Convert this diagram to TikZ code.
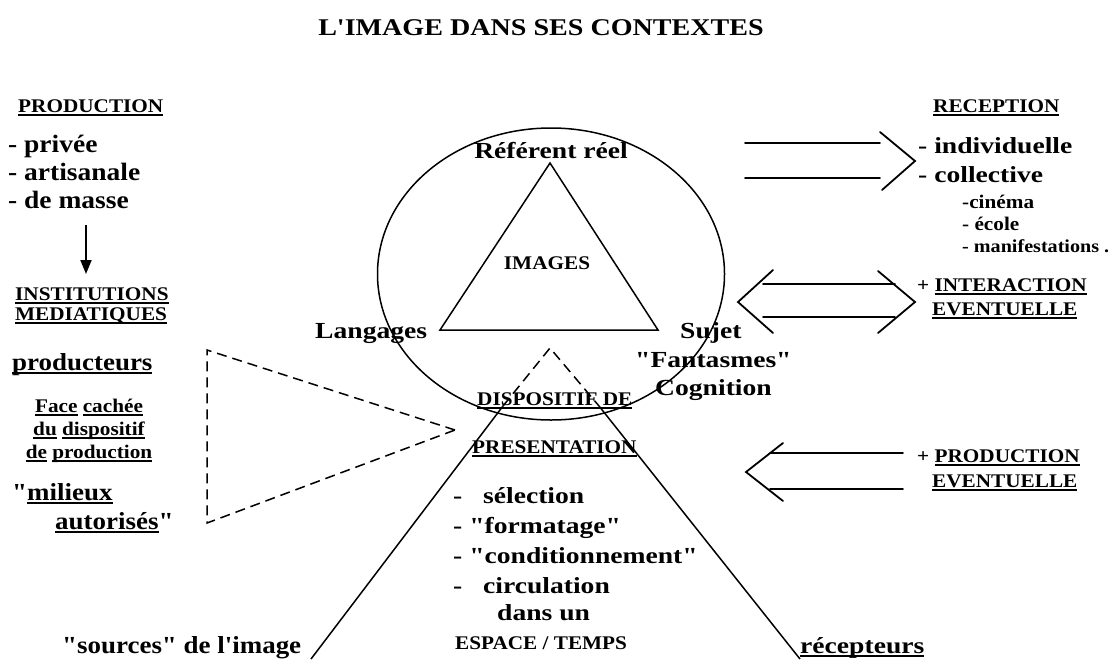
\documentclass[tikz,border=0pt]{standalone}
\usepackage{fontspec}
\setmainfont{Liberation Serif}[FakeStretch=1.1, Ligatures=TeXOff]
\newfontfamily\fsC{Liberation Serif}[FakeStretch=1.2, Ligatures=TeXOff]
\newfontfamily\fsT{Liberation Serif}[FakeStretch=1.17, Ligatures=TeXOff]
\usetikzlibrary{arrows.meta,shapes.geometric}
\newcommand\myul[1]{\leavevmode\setbox0\hbox{#1}\rlap{\vrule height -1.6pt depth 3.6pt width \wd0}\box0\relax}
\newcommand\dq{\symbol{34}}
\newcommand\sq{\symbol{39}}
\begin{document}
\begin{tikzpicture}[x=1pt,y=-1pt,
  tbig/.style={inner sep=0pt, anchor=base west, font=\bfseries\fontsize{24.5}{28}\selectfont},
  tleft/.style={inner sep=0pt, anchor=base west, font=\bfseries\fontsize{25}{30}\selectfont},
  tmid/.style={inner sep=0pt, anchor=base west, font=\fsC\bfseries\fontsize{23}{26}\selectfont},
  tcap/.style={inner sep=0pt, anchor=base west, font=\bfseries\fontsize{19.3}{22}\selectfont},
  tctr/.style={anchor=base},
  ln/.style={line width=1.8pt, line cap=round},
  thinln/.style={line width=1.5pt},
  dsh/.style={line width=1.5pt, dash pattern=on 10pt off 6pt}]
\useasboundingbox (0,0) rectangle (1115,659);
\fill[white] (0,0) rectangle (1115,659);

% title
\node[inner sep=0pt, anchor=base, font=\fsT\bfseries\fontsize{24}{28}\selectfont] (title) at (541,35) {L\sq IMAGE DANS SES CONTEXTES};

% left column
\node[tcap] (prod) at (18,112) {\myul{PRODUCTION}};
\node[tleft] (priv) at (8,152) {- privée};
\node[tleft] (arti) at (8,180) {- artisanale};
\node[tleft] (mass) at (8,208) {- de masse};
\coordinate (arA) at (86,225);
\coordinate (arB) at (86,274);
\draw[line width=2pt, -{Triangle[width=11pt,length=14pt]}] (arA) -- (arB);
\node[tcap] (inst) at (15,300) {\myul{INSTITUTIONS}};
\node[tcap] (medi) at (15,320) {\myul{MEDIATIQUES}};
\node[tbig] (produc) at (12,370) {\myul{producteurs}};
\node[tcap, tctr] (face) at (89,412) {\myul{Face} \myul{cachée}};
\node[tcap, tctr] (dudi) at (89,435) {\myul{du} \myul{dispositif}};
\node[tcap, tctr] (depr) at (89,458) {\myul{de} \myul{production}};
\node[tbig] (mil) at (12,500) {\dq\myul{milieux}};
\node[tbig] (aut) at (55,529) {\myul{autorisés}\dq};
\node[tbig] (src) at (62,653) {\dq sources\dq{} de l\sq image};

% dashed left triangle
\coordinate (dA) at (207,350);
\coordinate (dB) at (207,523);
\coordinate (dC) at (455,430);
\draw[dsh, line join=miter] (dC) -- (dA) -- (dB) -- cycle;

% ellipse and inner triangle
\node[draw, ellipse, thinln, inner sep=0pt, minimum width=347pt, minimum height=292pt] (circ) at (551,274) {};
\coordinate (tA) at (550,163);
\coordinate (tB) at (440,330);
\coordinate (tC) at (658,330);
\draw[thinln, line join=miter] (tA) -- (tB) -- (tC) -- cycle;
\node[tmid, tctr] (refr) at (551,158) {Référent réel};
\node[tcap, tctr] (imgs) at (547,269) {IMAGES};
\node[tmid] (lang) at (315,338) {Langages};
\node[tmid] (suj) at (680,338) {Sujet};
\node[tmid] (fant) at (635,367) {\dq Fantasmes\dq};
\node[tmid] (cogn) at (655,395) {Cognition};

% big presentation triangle
\coordinate (pA) at (550,348);
\coordinate (pL) at (503,406);
\coordinate (pR) at (599,406);
\coordinate (pLb) at (311,659);
\coordinate (pRb) at (800,659);
\draw[dsh] (pL) -- (pA) -- (pR);
\draw[thinln] (pL) -- (pLb);
\draw[thinln] (pR) -- (pRb);
\node[tcap] (disp) at (477,405) {\myul{DISPOSITIF DE}};
\node[tcap] (pres) at (472,453) {\myul{PRESENTATION}};
\node[tmid] (sel) at (453,503) {-\hspace{0.9em}sélection};
\node[tmid] (form) at (453,533) {- \dq formatage\dq};
\node[tmid] (cond) at (453,563) {- \dq conditionnement\dq};
\node[tmid] (circl) at (453,593) {-\hspace{0.9em}circulation};
\node[tmid] (dans) at (497,620) {dans un};
\node[tcap] (espt) at (455,649) {ESPACE / TEMPS};
\node[tmid] (recp) at (800,653) {\myul{récepteurs}};

% right column
\node[tcap] (rece) at (933,112) {\myul{RECEPTION}};
\node[tmid] (indi) at (918,153) {- individuelle};
\node[tmid] (coll) at (918,182) {- collective};
\node[tcap] (cine) at (962,208) {-cinéma};
\node[tcap] (ecol) at (962,230) {- école};
\node[tcap, font=\bfseries\fontsize{18.3}{22}\selectfont] (mani) at (962,252) {- manifestations .};
\node[tcap] (inter) at (917,291) {+ \myul{INTERACTION}};
\node[tcap] (even1) at (932,315) {\myul{EVENTUELLE}};
\node[tcap] (prod2) at (917,462) {+ \myul{PRODUCTION}};
\node[tcap] (even2) at (932,487) {\myul{EVENTUELLE}};

% arrow 1 (to the right)
\coordinate (a1s) at (745,143); \coordinate (a1e) at (880,143);
\coordinate (a2s) at (745,178); \coordinate (a2e) at (880,178);
\coordinate (c1a) at (880,132); \coordinate (c1t) at (915,161); \coordinate (c1b) at (882,190);
\draw[ln] (a1s) -- (a1e);
\draw[ln] (a2s) -- (a2e);
\draw[ln] (c1a) -- (c1t) -- (c1b);

% arrow 2 (double)
\coordinate (b1s) at (763,284); \coordinate (b1e) at (895,284);
\coordinate (b2s) at (763,317); \coordinate (b2e) at (895,317);
\coordinate (c2a) at (773,270); \coordinate (c2t) at (738,302); \coordinate (c2b) at (773,333);
\coordinate (c3a) at (878,271); \coordinate (c3t) at (915,302); \coordinate (c3b) at (878,333);
\draw[ln] (b1s) -- (b1e);
\draw[ln] (b2s) -- (b2e);
\draw[ln] (c2a) -- (c2t) -- (c2b);
\draw[ln] (c3a) -- (c3t) -- (c3b);

% arrow 3 (to the left)
\coordinate (d1s) at (770,453); \coordinate (d1e) at (903,453);
\coordinate (d2s) at (770,489); \coordinate (d2e) at (903,489);
\coordinate (c4a) at (783,443); \coordinate (c4t) at (746,472); \coordinate (c4b) at (783,501);
\draw[ln] (d1s) -- (d1e);
\draw[ln] (d2s) -- (d2e);
\draw[ln] (c4a) -- (c4t) -- (c4b);
\end{tikzpicture}
\end{document}
